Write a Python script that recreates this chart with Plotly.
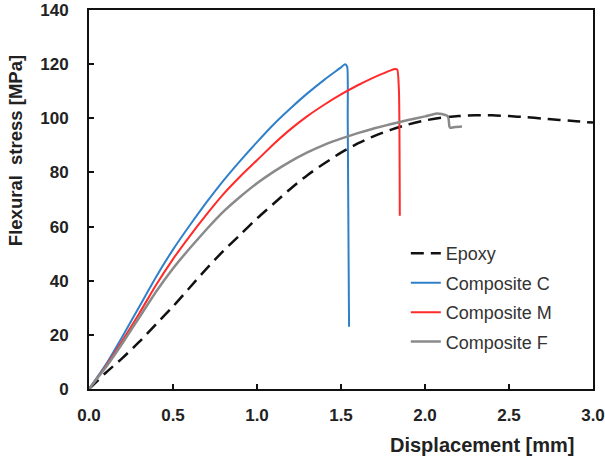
import plotly.graph_objects as go

# ---- data ----
epoxy_x = [0, 0.1, 0.2, 0.3, 0.4, 0.5, 0.6, 0.7, 0.8, 0.9, 1.0, 1.1, 1.2, 1.3, 1.4, 1.5,
           1.6, 1.7, 1.8, 1.9, 2.0, 2.1, 2.2, 2.3, 2.4, 2.5, 2.6, 2.7, 2.8, 2.9, 3.0]
epoxy_y = [0, 6, 11.5, 17.5, 24, 30.5, 37.5, 44.5, 51, 57, 63, 68.5, 74, 79, 83.3, 87.3,
           90.7, 93.5, 95.8, 97.7, 99.2, 100.2, 100.8, 101.1, 101.1, 100.8, 100.4, 99.9, 99.4, 98.9, 98.4]

compC_x = [0, 0.1, 0.2, 0.3, 0.4, 0.5, 0.6, 0.7, 0.8, 0.9, 1.0, 1.1, 1.2, 1.3, 1.4, 1.5,
           1.525, 1.537, 1.54, 1.545, 1.548]
compC_y = [0, 9, 19.5, 30.5, 41.5, 51.5, 60.5, 69, 77, 84.3, 91.2, 97.8, 103.7, 109.2, 114.2, 118.8,
           120, 119, 100, 50, 23]

compM_x = [0, 0.1, 0.2, 0.3, 0.4, 0.5, 0.6, 0.7, 0.8, 0.9, 1.0, 1.1, 1.2, 1.3, 1.4, 1.5,
           1.6, 1.7, 1.8, 1.82, 1.835, 1.845, 1.85]
compM_y = [0, 8.5, 18, 28, 38.5, 48, 56.5, 64.5, 72, 78.5, 84.5, 90.5, 96, 100.8, 105, 108.8,
           112.2, 115.2, 117.8, 118.2, 118, 110, 64]

compF_x = [0, 0.1, 0.2, 0.3, 0.4, 0.5, 0.6, 0.7, 0.8, 0.9, 1.0, 1.1, 1.2, 1.3, 1.4, 1.5,
           1.6, 1.7, 1.8, 1.9, 2.0, 2.07, 2.1, 2.13, 2.14, 2.145, 2.15, 2.18, 2.22]
compF_y = [0, 8, 17, 26.5, 36, 44.5, 52, 59, 65.5, 71, 76, 80.3, 84.1, 87.4, 90.2, 92.5,
           94.5, 96.3, 97.9, 99.4, 100.7, 101.8, 101.6, 101, 100, 97, 96.5, 96.8, 97]

x_ticks = [0.0, 0.5, 1.0, 1.5, 2.0, 2.5, 3.0]
y_ticks = [0, 20, 40, 60, 80, 100, 120, 140]

FONT = "Liberation Sans, Arial, sans-serif"

fig = go.Figure()
fig.add_trace(go.Scatter(x=epoxy_x, y=epoxy_y, mode="lines", name="Epoxy", legendgroup="a",
                         line=dict(color="#111111", width=2.5, dash="13px,7px",
                                   shape="spline", smoothing=0.8)))
fig.add_trace(go.Scatter(x=compC_x, y=compC_y, mode="lines", name="Composite C", legendgroup="b",
                         line=dict(color="#2f80c8", width=2, shape="spline", smoothing=0.5)))
fig.add_trace(go.Scatter(x=compM_x, y=compM_y, mode="lines", name="Composite M", legendgroup="c",
                         line=dict(color="#ff2a2a", width=2, shape="spline", smoothing=0.5)))
fig.add_trace(go.Scatter(x=compF_x, y=compF_y, mode="lines", name="Composite F", legendgroup="d",
                         line=dict(color="#8a8a8a", width=2.5, shape="spline", smoothing=0.4)))

axis_common = dict(showgrid=False, zeroline=False, showline=True, linecolor="#111111", linewidth=2,
                   mirror=True, ticks="inside", ticklen=5, tickwidth=2, tickcolor="#111111",
                   automargin=False,
                   tickfont=dict(family=FONT, size=17, color="#222222", weight="bold"))

fig.update_xaxes(range=[0, 3.0], tickvals=x_ticks, ticktext=[f"{v:.1f}" for v in x_ticks],
                 ticklabelstandoff=10, **axis_common)
fig.update_yaxes(range=[0, 140], tickvals=y_ticks, ticktext=[str(v) for v in y_ticks],
                 ticklabelstandoff=15, **axis_common)

fig.add_annotation(text="<b>Displacement [mm]</b>", xref="paper", yref="paper", x=0.78, y=-0.148,
                   xanchor="center", yanchor="middle", showarrow=False,
                   font=dict(family=FONT, size=20, color="#222222"))
fig.add_annotation(text="<b>Flexural\u00a0 stress [MPa]</b>", xref="paper", yref="paper",
                   x=-0.147, y=0.63, xanchor="center", yanchor="middle", textangle=-90,
                   showarrow=False, font=dict(family=FONT, size=18.5, color="#222222"))

fig.update_layout(
    width=605, height=456,
    margin=dict(l=89, r=12, t=10, b=67, autoexpand=False),
    paper_bgcolor="white", plot_bgcolor="white",
    showlegend=True,
    legend=dict(x=0.6286, y=0.406, xanchor="left", yanchor="top", bgcolor="rgba(0,0,0,0)",
                traceorder="grouped", tracegroupgap=3,
                font=dict(family=FONT, size=18, color="#333333")),
)

fig.write_html("out.html")
